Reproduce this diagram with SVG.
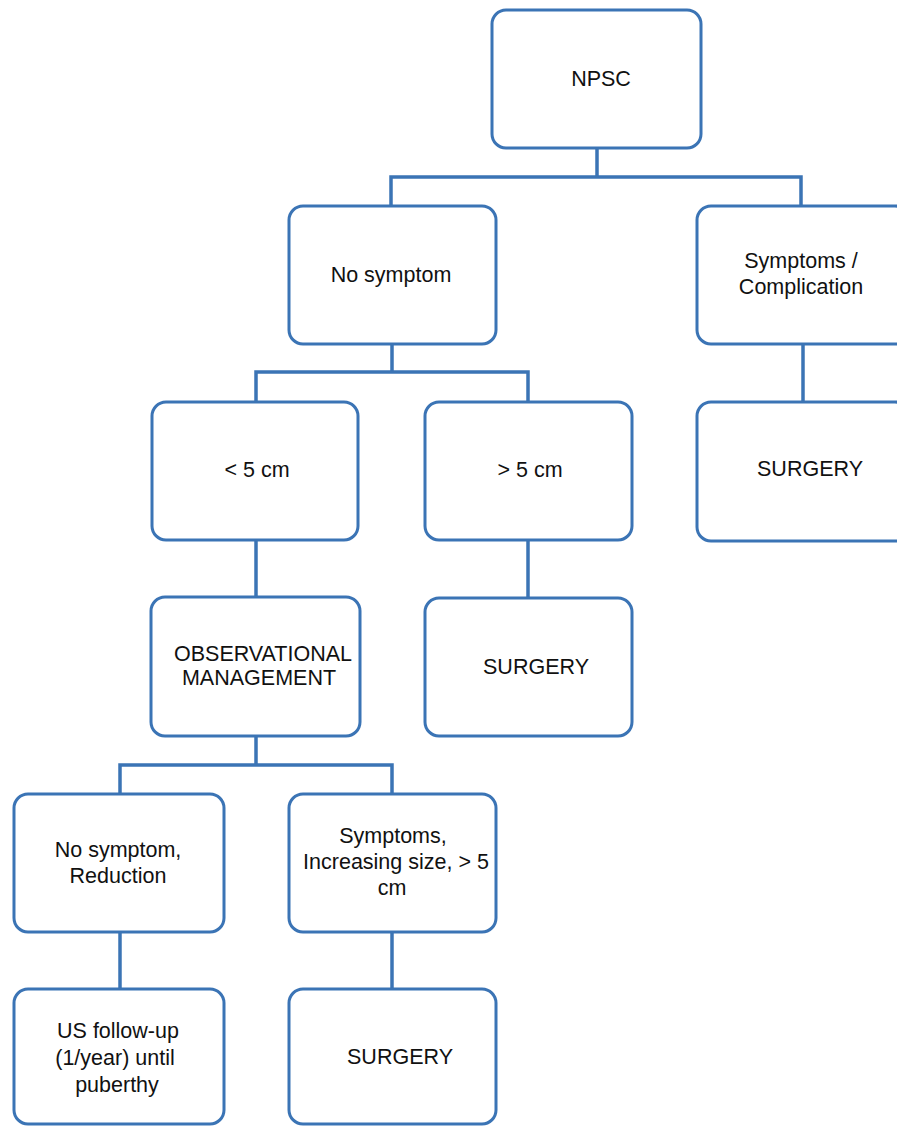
<svg xmlns="http://www.w3.org/2000/svg" width="897" height="1126" viewBox="0 0 897 1126">
<style>
.box{fill:#ffffff;stroke:#3b74b5;stroke-width:3}
.conn{fill:none;stroke:#3b74b5;stroke-width:3.5}
text{font-family:"Liberation Sans",Arial,sans-serif;font-size:21.5px;fill:#111111;text-anchor:middle}
</style>
<rect width="897" height="1126" fill="#ffffff"/>
<g id="connectors">
<path class="conn" d="M597 148 V177 M391 206 V177 H801 V206"/>
<path class="conn" d="M392 344 V372 M256 402 V372 H528 V402"/>
<path class="conn" d="M803 344 V402"/>
<path class="conn" d="M256 540 V597"/>
<path class="conn" d="M528 540 V598"/>
<path class="conn" d="M256 736 V765 M120 794 V765 H392 V794"/>
<path class="conn" d="M120 932 V989"/>
<path class="conn" d="M392 932 V989"/>
</g>
<g id="npsc"><rect class="box" x="492" y="10" width="209" height="138" rx="14"/><text x="601" y="86">NPSC</text></g>
<g id="no-symptom"><rect class="box" x="289" y="206" width="207" height="138" rx="14"/><text x="391" y="282">No symptom</text></g>
<g id="symptoms-complication"><rect class="box" x="697" y="206" width="212" height="138" rx="14"/><text x="801" y="268">Symptoms /</text><text x="801" y="294">Complication</text></g>
<g id="lt5"><rect class="box" x="152" y="402" width="206" height="138" rx="14"/><text x="257" y="477">&lt; 5 cm</text></g>
<g id="gt5"><rect class="box" x="425" y="402" width="207" height="138" rx="14"/><text x="530" y="477">&gt; 5 cm</text></g>
<g id="surgery-right"><rect class="box" x="697" y="402" width="212" height="139" rx="14"/><text x="810" y="476">SURGERY</text></g>
<g id="observational"><rect class="box" x="151" y="597" width="209" height="139" rx="14"/><text x="263" y="661">OBSERVATIONAL</text><text x="259" y="685">MANAGEMENT</text></g>
<g id="surgery-mid"><rect class="box" x="425" y="598" width="207" height="138" rx="14"/><text x="536" y="674">SURGERY</text></g>
<g id="no-symptom-reduction"><rect class="box" x="14" y="794" width="210" height="138" rx="14"/><text x="118" y="857">No symptom,</text><text x="118" y="883">Reduction</text></g>
<g id="symptoms-increasing"><rect class="box" x="289" y="794" width="207" height="138" rx="14"/><text x="393" y="843">Symptoms,</text><text x="396" y="869">Increasing size, &gt; 5</text><text x="392" y="895">cm</text></g>
<g id="us-follow-up"><rect class="box" x="14" y="989" width="210" height="135" rx="14"/><text x="118" y="1038">US follow-up</text><text x="115" y="1065">(1/year) until</text><text x="117" y="1092">puberthy</text></g>
<g id="surgery-bottom"><rect class="box" x="289" y="989" width="207" height="135" rx="14"/><text x="400" y="1064">SURGERY</text></g>
</svg>
